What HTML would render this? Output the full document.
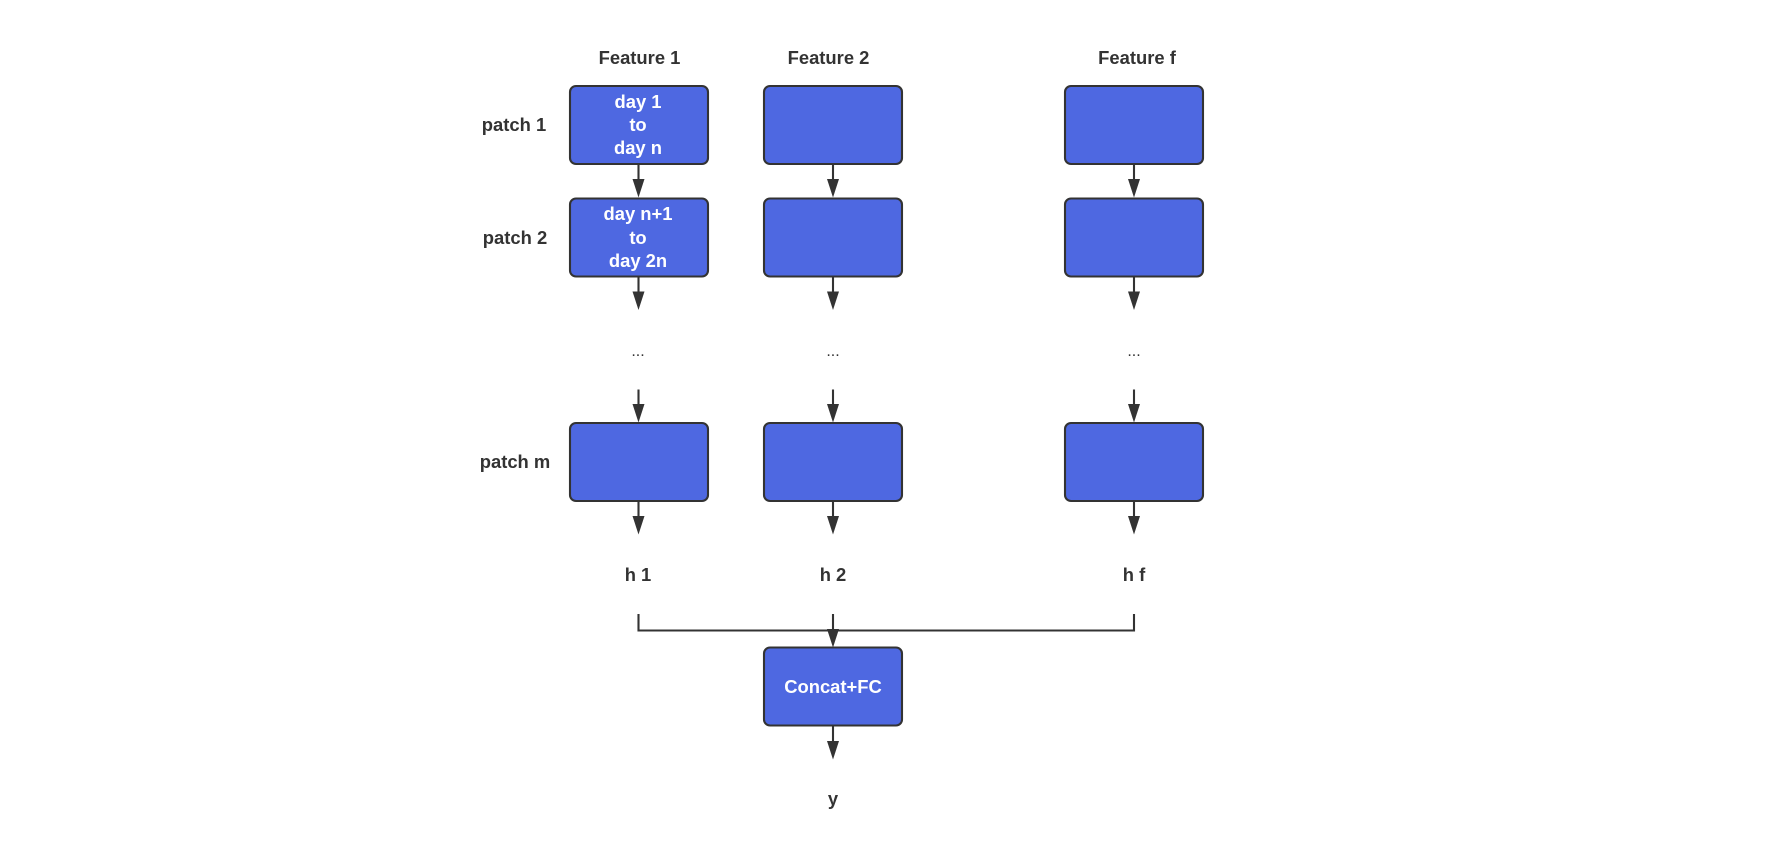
<!DOCTYPE html>
<html lang="en">
<head>
<meta charset="utf-8">
<title>Patch feature diagram</title>
<style>
html,body{margin:0;padding:0;background:#fff;width:1788px;height:842px;overflow:hidden}
svg{display:block;filter:blur(0.35px)}
text{font-family:"Liberation Sans",sans-serif;font-size:18.4px;font-weight:700;fill:#333;text-anchor:middle}
text.w{fill:#fff}
text.d{font-weight:400;font-size:16px}
rect{fill:#4e68e1;stroke:#333;stroke-width:2.1}
.l{stroke:#333;stroke-width:2.1;fill:none}
.h{fill:#333;stroke:none}
</style>
</head>
<body>
<svg width="1788" height="842" viewBox="0 0 1788 842" xmlns="http://www.w3.org/2000/svg">
  <g>
    <text x="639.500" y="64">Feature 1</text>
    <text x="828.500" y="64">Feature 2</text>
    <text x="1137" y="64">Feature f</text>
  </g>
  <g>
    <text x="514" y="131">patch 1</text>
    <text x="515" y="244">patch 2</text>
    <text x="515" y="468">patch m</text>
  </g>
  <g>
    <rect x="570" y="86" width="138" height="78" rx="6"/>
    <rect x="764" y="86" width="138" height="78" rx="6"/>
    <rect x="1065" y="86" width="138" height="78" rx="6"/>
    <rect x="570" y="198.500" width="138" height="78" rx="6"/>
    <rect x="764" y="198.500" width="138" height="78" rx="6"/>
    <rect x="1065" y="198.500" width="138" height="78" rx="6"/>
    <rect x="570" y="423" width="138" height="78" rx="6"/>
    <rect x="764" y="423" width="138" height="78" rx="6"/>
    <rect x="1065" y="423" width="138" height="78" rx="6"/>
    <rect x="764" y="647.500" width="138" height="78" rx="6"/>
  </g>
  <g>
    <text class="w" x="638" y="108">day 1</text>
    <text class="w" x="638" y="131">to</text>
    <text class="w" x="638" y="154">day n</text>
    <text class="w" x="638" y="220">day n+1</text>
    <text class="w" x="638" y="244">to</text>
    <text class="w" x="638" y="267">day 2n</text>
    <text class="w" x="833" y="693">Concat+FC</text>
  </g>
  <g>
    <text class="d" x="638" y="356">...</text>
    <text class="d" x="833" y="356">...</text>
    <text class="d" x="1134" y="356">...</text>
  </g>
  <g>
    <text x="638" y="581">h 1</text>
    <text x="833" y="581">h 2</text>
    <text x="1134" y="581">h f</text>
    <text x="833" y="805">y</text>
  </g>
  <g>
    <g><path class="l" d="M638.500 164V185"/><path class="h" d="M632.500 179h12l-6 18.500z"/></g>
    <g><path class="l" d="M833 164V185"/><path class="h" d="M827 179h12l-6 18.500z"/></g>
    <g><path class="l" d="M1134 164V185"/><path class="h" d="M1128 179h12l-6 18.500z"/></g>
    <g><path class="l" d="M638.500 276V297"/><path class="h" d="M632.500 291.500h12l-6 18.500z"/></g>
    <g><path class="l" d="M833 276V297"/><path class="h" d="M827 291.500h12l-6 18.500z"/></g>
    <g><path class="l" d="M1134 276V297"/><path class="h" d="M1128 291.500h12l-6 18.500z"/></g>
    <g><path class="l" d="M638.500 389.500V410"/><path class="h" d="M632.500 404h12l-6 18.500z"/></g>
    <g><path class="l" d="M833 389.500V410"/><path class="h" d="M827 404h12l-6 18.500z"/></g>
    <g><path class="l" d="M1134 389.500V410"/><path class="h" d="M1128 404h12l-6 18.500z"/></g>
    <g><path class="l" d="M638.500 501V522"/><path class="h" d="M632.500 516h12l-6 18.500z"/></g>
    <g><path class="l" d="M833 501V522"/><path class="h" d="M827 516h12l-6 18.500z"/></g>
    <g><path class="l" d="M1134 501V522"/><path class="h" d="M1128 516h12l-6 18.500z"/></g>
    <path class="l" d="M638.500 614V630.500H1134V614"/>
    <g><path class="l" d="M833 614V635"/><path class="h" d="M827 629h12l-6 18.500z"/></g>
    <g><path class="l" d="M833 725.500V747"/><path class="h" d="M827 741h12l-6 18.500z"/></g>
  </g>
</svg>
</body>
</html>
